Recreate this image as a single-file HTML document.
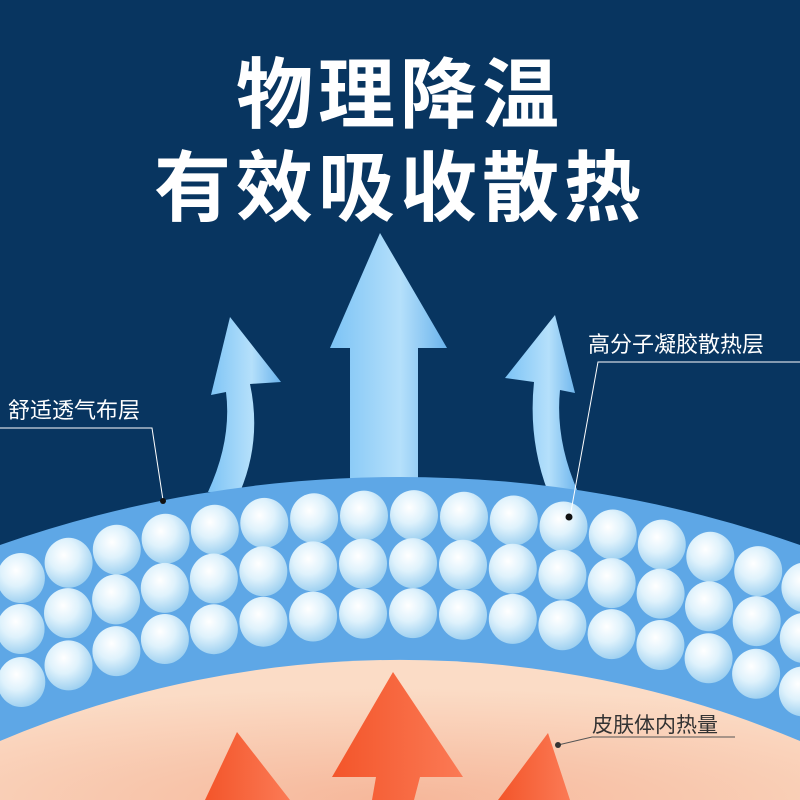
<!DOCTYPE html>
<html style="overflow:hidden"><head><meta charset="utf-8"><style>
html,body{margin:0;padding:0;width:800px;height:800px;overflow:hidden}
body{background:#083560;position:relative;font-family:"Liberation Sans","Noto Sans CJK SC",sans-serif}
.t{position:absolute;left:0;width:800px;text-align:center;color:#fff;font-weight:bold;font-family:"Noto Sans CJK SC",sans-serif;letter-spacing:5px}
.l{position:absolute;color:#fff;font-size:22px;font-family:"Noto Sans CJK SC",sans-serif;white-space:nowrap}
</style></head><body>
<svg id="s" width="800" height="800" viewBox="0 0 800 800" style="position:absolute;left:0;top:0;overflow:hidden">
<defs>
<clipPath id="cp"><rect x="0" y="0" width="800" height="800"/></clipPath>
<radialGradient id="sp" cx="0.4" cy="0.35" r="0.7">
<stop offset="0" stop-color="#ffffff"/><stop offset="0.45" stop-color="#dff2fc"/><stop offset="1" stop-color="#98cdef"/></radialGradient>
<radialGradient id="sk" cx="0.5" cy="1" r="0.8">
<stop offset="0" stop-color="#f6b79a"/><stop offset="1" stop-color="#fbdcc6"/></radialGradient>
<linearGradient id="ab" x1="0" x2="1"><stop offset="0" stop-color="#7cc3f5"/><stop offset="0.6" stop-color="#b5e0fb"/><stop offset="1" stop-color="#6ab3ec"/></linearGradient>
<linearGradient id="rd" x1="0" x2="1"><stop offset="0" stop-color="#f3552a"/><stop offset="1" stop-color="#fb7a55"/></linearGradient>
</defs>
<path d="M350,480 L350,348 L330,348 L380,233 L447,348 L418,348 L418,480 Z" fill="url(#ab)"/>
<path d="M208,492 Q232,440 226,392 L211,395 L230,317 L281,382 L250,384 Q262,440 240,492 Z" fill="url(#ab)"/>
<path d="M548,492 Q528,440 534,382 L505,378 L555,315 L575,393 L560,390 Q555,440 578,492 Z" fill="url(#ab)"/>
<g clip-path="url(#cp)">
<path d="M0,545 A1210,1210 0 0 1 800,545 L800,800 L0,800 Z" fill="#5ea7e6"/>
<g id="g"></g>
<path d="M0,741 A1027,1027 0 0 1 800,741 L800,800 L0,800 Z" fill="url(#sk)"/>
<path d="M372,800 L376,777 L332,777 L393,672 L463,777 L420,777 L414,800 Z" fill="url(#rd)"/>
<path d="M205,800 L237,732 L290,800 Z" fill="url(#rd)"/>
<path d="M498,800 L548,733 L570,800 Z" fill="url(#rd)"/>
</g>
<g stroke="#fff" stroke-width="1" fill="none">
<polyline points="0,428 152,428 163,500"/>
<polyline points="800,362 598,362 570,517"/>
</g>
<polyline points="735,737 592,737 558,745" stroke="#555" stroke-width="1" fill="none"/>
<circle cx="163" cy="501" r="3" fill="#111"/><circle cx="569" cy="517" r="3.5" fill="#111"/><circle cx="558" cy="745" r="3" fill="#333"/>
</svg>
<div class="t" style="top:42px;font-size:77px;line-height:96px">物理降温</div>
<div class="t" style="top:135px;font-size:77px;line-height:96px">有效吸收散热</div>
<div class="l" style="left:8px;top:393px">舒适透气布层</div>
<div class="l" style="left:588px;top:327px">高分子凝胶散热层</div>
<div class="l" style="left:592px;top:709px;color:#333;font-size:21px">皮肤体内热量</div>
<script>
var g=document.getElementById('g'),cx=400,cy=1687,rows=[1172,1124,1074],s='';
rows.forEach(function(R,i){
 var step=50/R,off=(i%2)*step/2;
 for(var a=-0.5+off;a<0.5;a+=step){
  var x=cx+R*Math.sin(a),y=cy-R*Math.cos(a);
  if(x<-20||x>820||y>770)continue;
  s+='<ellipse cx="'+x.toFixed(1)+'" cy="'+y.toFixed(1)+'" rx="24" ry="25" fill="url(#sp)"/>';
 }
});
g.innerHTML=s;
</script>
</body></html>
